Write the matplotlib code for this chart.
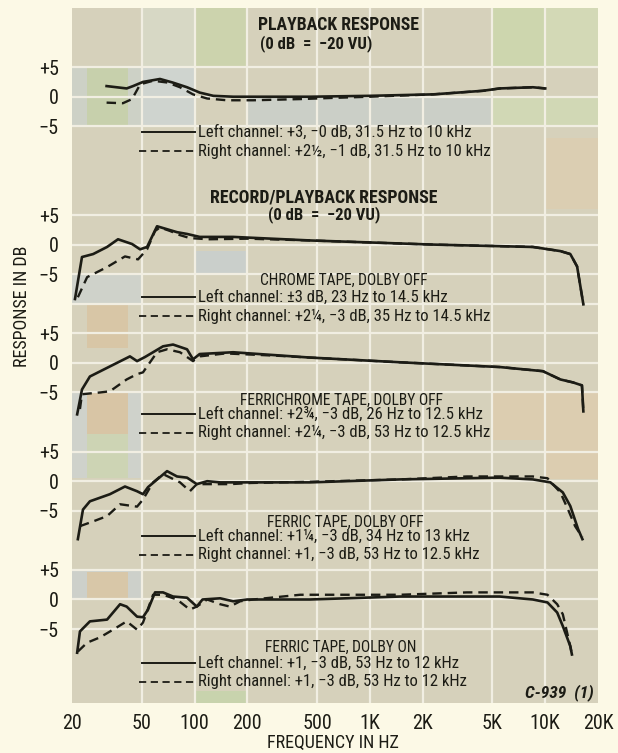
import matplotlib
matplotlib.use('Agg')
import matplotlib.pyplot as plt
import numpy as np

plt.rcParams['font.family'] = ['Roboto Condensed', 'Liberation Sans Narrow', 'Roboto', 'DejaVu Sans']

# playback response
pb_left_f = [31.5, 41, 44.6, 50.8, 63.5, 75, 90.6, 107, 128, 166, 456, 1000, 2300, 4400, 5500, 8500, 10000]
pb_left_db = [1.8, 1.4, 1.8, 2.5, 3.0, 2.4, 1.6, 0.7, 0.15, 0.0, 0.0, 0.15, 0.4, 1.0, 1.4, 1.6, 1.4]
pb_right_f = [31.5, 39, 44, 49, 58, 70, 82.6, 98, 118, 153, 216, 400, 616, 1000, 2300, 4400, 5500, 8500, 10000]
pb_right_db = [-1.0, -1.1, -0.4, 2.1, 2.7, 2.4, 1.6, 0.4, -0.3, -0.6, -0.6, -0.4, -0.2, 0.0, 0.4, 1.0, 1.4, 1.6, 1.4]

# record/playback, chrome tape, Dolby off
ch_left_f = [20.8, 22.8, 26.4, 31.7, 36.6, 44.0, 48.9, 53.6, 61.1, 69.7, 79.4, 90.6, 107, 166, 456,
             2300, 8500, 12200, 13900, 15200, 16500]
ch_left_db = [-9.2, -2.1, -1.6, -0.4, 0.9, 0.1, -0.8, -0.4, 3.1, 2.6, 2.1, 1.8, 1.3, 1.3, 0.7,
              0.0, -0.4, -1.1, -1.6, -3.7, -10.1]
ch_right_f = [21.6, 24.4, 31.7, 40.1, 47.6, 53.6, 59.5, 63.5, 72.5, 82.6, 94, 120, 200, 456,
              2300, 8500, 12200, 13900, 15200, 16500]
ch_right_db = [-8.9, -5.5, -3.8, -2.0, -2.5, -0.8, 2.3, 2.9, 2.3, 1.6, 1.1, 0.9, 1.0, 0.7,
               0.0, -0.4, -1.1, -1.6, -3.7, -10.1]

# ferrichrome tape, Dolby off
fc_left_f = [21.4, 22.8, 25.3, 32.9, 42.8, 47.0, 52.2, 66.1, 75.4, 90.6, 98, 107, 166, 456,
             1490, 5500, 9700, 12200, 14400, 16200, 16500]
fc_left_db = [-8.7, -4.5, -2.3, -0.6, 1.1, 0.3, 1.0, 2.8, 3.1, 2.3, 0.6, 1.5, 1.8, 0.9,
              0.1, -0.7, -1.4, -2.8, -3.3, -3.8, -8.2]
fc_right_f = [22.2, 22.8, 28.9, 32.9, 41.0, 47.0, 50.8, 61.1, 69.7, 82.6, 98, 107, 150, 300,
              456, 1490, 5500, 9700, 12200, 14400, 16200, 16500]
fc_right_db = [-7.8, -5.3, -5.0, -4.8, -2.8, -1.9, -1.6, 1.8, 2.3, 1.8, 0.3, 1.1, 1.6, 1.2,
               0.9, 0.1, -0.7, -1.4, -2.8, -3.3, -3.8, -8.2]

# ferric tape, Dolby off
fo_left_f = [21.6, 23.1, 25.3, 32.9, 40.1, 47.0, 50.8, 54.3, 69.7, 79.4, 90.6, 103, 118, 140,
             166, 456, 1490, 5500, 8500, 10700, 12600, 13900, 15400, 16300]
fo_left_db = [-9.8, -4.8, -3.4, -2.2, -0.9, -1.7, -2.2, -1.0, 1.7, 0.8, 0.6, -0.5, 0.0, -0.2,
              -0.2, -0.2, 0.3, 0.6, 0.3, -0.2, -1.9, -4.2, -8.1, -9.8]
fo_right_f = [22.2, 26.4, 31.7, 37.6, 47.0, 50.8, 58.0, 66.1, 82.6, 94, 103, 140, 159, 210,
              456, 1490, 3580, 8500, 10300, 12200, 13500, 14800, 16300]
fo_right_db = [-7.6, -6.8, -5.9, -3.9, -4.3, -3.1, -0.2, 1.2, -0.2, -1.7, -0.5, -0.5, -0.5, -0.3,
               -0.1, 0.3, 0.8, 0.8, 0.5, -1.9, -4.8, -7.6, -9.5]

# ferric tape, Dolby on
do_left_f = [21.4, 22.2, 25.3, 31.7, 37.6, 41.0, 47.0, 50.8, 54.3, 59.5, 66.1, 75.4, 90.6, 103,
             111, 140, 166, 200, 456, 1490, 5500, 8500, 10300, 11700, 12600, 13900, 14200]
do_left_db = [-9.0, -5.4, -3.7, -3.4, -0.8, -1.2, -2.9, -3.0, -1.7, 1.2, 1.2, 0.5, 0.3, -1.2,
              0.0, 0.2, -0.3, 0.0, 0.0, 0.5, 0.5, 0.0, -0.5, -2.2, -4.5, -7.9, -9.3]
do_right_f = [21.6, 24.4, 28.9, 34.3, 41.0, 47.0, 50.8, 58.0, 66.1, 79.4, 94, 103, 118, 140,
              159, 182, 216, 400, 1490, 3580, 8500, 10300, 11700, 12600, 13900, 14200]
do_right_db = [-8.8, -7.3, -6.4, -5.1, -3.7, -5.1, -3.9, 0.8, 0.8, 0.0, -1.7, -1.2, 0.0, -0.8,
               -1.2, -0.3, 0.0, 0.8, 0.8, 1.2, 1.2, 0.8, -0.8, -2.5, -7.9, -9.3]

freq_ticks = [20, 50, 100, 200, 500, 1000, 2000, 5000, 10000, 20000]
freq_labels = ['20', '50', '100', '200', '500', '1K', '2K', '5K', '10K', '20K']

# each panel sits on its own 0 dB line of the shared sheet
panels = [
    (85, pb_left_f, pb_left_db, pb_right_f, pb_right_db),
    (60, ch_left_f, ch_left_db, ch_right_f, ch_right_db),
    (40, fc_left_f, fc_left_db, fc_right_f, fc_right_db),
    (20, fo_left_f, fo_left_db, fo_right_f, fo_right_db),
    (0, do_left_f, do_left_db, do_right_f, do_right_db),
]

legend_text = [
    ('Left channel: +3, \u22120 dB, 31.5 Hz to 10 kHz',
     'Right channel: +2\u00bd, \u22121 dB, 31.5 Hz to 10 kHz'),
    ('Left channel: \u00b13 dB, 23 Hz to 14.5 kHz',
     'Right channel: +2\u00bc, \u22123 dB, 35 Hz to 14.5 kHz'),
    ('Left channel: +2\u00be, \u22123 dB, 26 Hz to 12.5 kHz',
     'Right channel: +2\u00bc, \u22123 dB, 53 Hz to 12.5 kHz'),
    ('Left channel: +1\u00bc, \u22123 dB, 34 Hz to 13 kHz',
     'Right channel: +1, \u22123 dB, 53 Hz to 12.5 kHz'),
    ('Left channel: +1, \u22123 dB, 53 Hz to 12 kHz',
     'Right channel: +1, \u22123 dB, 53 Hz to 12 kHz'),
]
# key rows below each panel's 0 dB line (solid, dashed)
key_rows = [(-6.0, -9.2), (-8.9, -12.1), (-8.7, -11.8), (-9.3, -12.4), (-10.7, -13.9)]

W, H = 618, 753
ink = '#1c1c15'
fig = plt.figure(figsize=(W / 100, H / 100), dpi=100, facecolor='#fcf9e6')
ax = fig.add_axes([72 / W, 50 / H, 526 / W, 695 / H])
ax.set_xscale('log')
ax.set_xlim(20, 20000)
ax.set_ylim(-17.5, 100)
ax.set_facecolor('#d6d1bb')
for s in ax.spines.values():
    s.set_visible(False)

# tinted cells of the printed grid paper
tints = [
    (50, 100, 90, 100, '#d7d8c5'), (100, 200, 90, 100, '#ccd3ad'),
    (5000, 10000, 90, 100, '#cdd6ae'), (10000, 20000, 90, 100, '#d3d9b6'),
    (20, 50, 80, 90, '#cdd1c6'), (24.4, 41.7, 80, 90, '#c7d0ac'),
    (50, 100, 80, 90, '#cfd4cf'), (200, 5000, 80, 85, '#cbcfc7'),
    (5000, 20000, 80, 85, '#d1d8b5'), (10000, 20000, 66, 78, '#dbceb2'),
    (100, 200, 55, 59, '#cacfcb'), (20, 50, 50, 55, '#cfd2ca'),
    (24.4, 41.7, 42.6, 50, '#d8c6a6'), (20, 50, 20.5, 35, '#cfd2cb'),
    (24.4, 41.7, 28, 35, '#d8c5a5'), (24.4, 41.7, 20.5, 28, '#cdd4b4'),
    (5000, 10000, 27, 35, '#dccdb0'), (10000, 20000, 20.3, 35, '#dccdb0'),
    (20, 50, 0, 5, '#cdd0ca'), (24.4, 41.7, 0, 4.6, '#d8c7a8'),
    (100, 200, -17.5, -15.5, '#c8d3ad'),
]
for f0, f1, y0, y1, c in tints:
    ax.fill_between([f0, f1], [y0, y0], [y1, y1], color=c, lw=0, zorder=0)

grid_c = '#f1eee2'
for f in freq_ticks[1:-1]:
    ax.axvline(f, color=grid_c, lw=1.6, zorder=1)
for y in [90, 85, 80, 65, 60, 55, 50, 45, 40, 35, 25, 20, 15, 5, 0, -5]:
    ax.axhline(y, color=grid_c, lw=1.6, zorder=1)

for (off, lf, ldb, rf, rdb), (ltxt, rtxt), (ks, kd) in zip(panels, legend_text, key_rows):
    ax.plot(lf, np.array(ldb) + off, color=ink, lw=1.9, solid_joinstyle='round', zorder=3)
    ax.plot(rf, np.array(rdb) + off, color=ink, lw=1.7, dashes=(4, 2.5), zorder=3)
    ys, yd = off + ks, off + kd
    ax.plot([50.1, 100.9], [ys, ys], color=ink, lw=1.4, zorder=3)
    ax.plot([48.5, 100.9], [yd, yd], color=ink, lw=1.3, dashes=(4, 2.5), zorder=3)
    ax.text(105, ys, ltxt, fontsize=12, color=ink, va='center', ha='left', zorder=4)
    ax.text(105, yd, rtxt, fontsize=12, color=ink, va='center', ha='left', zorder=4)

ax.set_xticks(freq_ticks, freq_labels)
ax.xaxis.set_minor_locator(matplotlib.ticker.NullLocator())
ax.yaxis.set_minor_locator(matplotlib.ticker.NullLocator())
yt, yl = [], []
for off, *_ in panels:
    yt += [off + 5, off, off - 5]
    yl += ['+5', '0', '\u22125']
ax.set_yticks(yt, yl)
ax.tick_params(length=0, labelsize=14.5, colors=ink)
ax.tick_params(axis='y', pad=9.5)
ax.tick_params(axis='x', pad=8)


def put(x, y, s, **kw):
    fig.text(x / W, 1 - y / H, s, va='center', ha='left', color=ink, **kw)


put(258, 25, 'PLAYBACK RESPONSE', fontsize=12.8, fontweight='bold')
put(260, 44, '(0 dB  =  \u221220 VU)', fontsize=12, fontweight='bold')
put(210, 197, 'RECORD/PLAYBACK RESPONSE', fontsize=12.9, fontweight='bold')
put(268, 215, '(0 dB  =  \u221220 VU)', fontsize=12, fontweight='bold')
put(260, 280, 'CHROME TAPE, DOLBY OFF', fontsize=11.2)
put(240, 400, 'FERRICHROME TAPE, DOLBY OFF', fontsize=11.2)
put(267, 522, 'FERRIC TAPE, DOLBY OFF', fontsize=11.2)
put(265, 647, 'FERRIC TAPE, DOLBY ON', fontsize=11.2)
put(525, 693, 'C-939  (1)', fontsize=12.5, fontweight='bold', fontstyle='italic')

fig.text(22 / W, 1 - 306 / H, 'RESPONSE IN DB', rotation=90, fontsize=13,
         va='center', ha='center', color=ink)
fig.text(333 / W, 1 - 743 / H, 'FREQUENCY IN HZ', fontsize=13,
         va='center', ha='center', color=ink)

fig.savefig('out.png', dpi=100, facecolor=fig.get_facecolor())
